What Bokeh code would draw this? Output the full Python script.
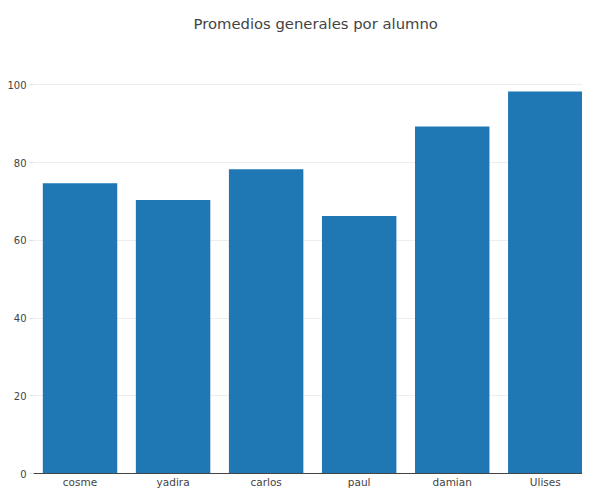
from bokeh.plotting import figure
from bokeh.models import Range1d, FixedTicker, Title
from bokeh.embed import file_html
from bokeh.resources import INLINE

titulo = "Promedios generales por alumno"
alumnos = ["cosme", "yadira", "carlos", "paul", "damian", "Ulises"]
promedios = [74.7, 70.4, 78.3, 66.3, 89.3, 98.3]
y_ticks = [0, 20, 40, 60, 80, 100]

xs = [i + 0.5 for i in range(len(alumnos))]

p = figure(width=582, height=490, output_backend="svg", toolbar_location=None,
           x_range=Range1d(0, 5.9), y_range=Range1d(0, 103.2),
           min_border_left=33, min_border_right=0, min_border_top=72, min_border_bottom=0)
p.title = Title(text=titulo + "\n \n ", align="left", vertical_align="bottom", offset=160,
                text_font="DejaVu Sans", text_font_size="14.8px", text_font_style="normal",
                text_color="#444444", standoff=0, text_line_height=1.2)
p.outline_line_color = None
p.background_fill_color = "white"
p.border_fill_color = "white"

p.vbar(x=xs, top=promedios, width=0.8, bottom=0, fill_color="#1f77b4", line_color=None)

p.xgrid.grid_line_color = None
p.ygrid.grid_line_color = "#eeeeee"
p.ygrid.ticker = FixedTicker(ticks=y_ticks)

p.xaxis.ticker = FixedTicker(ticks=xs)
p.xaxis.major_label_overrides = {x: a for x, a in zip(xs, alumnos)}
p.xaxis.major_tick_in = 0
p.xaxis.major_tick_out = 0
p.xaxis.major_tick_line_color = None
p.xaxis.minor_tick_line_color = None
p.xaxis.axis_line_color = "#444444"
p.xaxis.axis_line_width = 1
p.xaxis.major_label_standoff = 2
p.xaxis.major_label_text_font = "DejaVu Sans"
p.xaxis.major_label_text_font_size = "10.5px"
p.xaxis.major_label_text_color = "#444444"

p.yaxis.ticker = FixedTicker(ticks=y_ticks)
p.yaxis.axis_line_color = None
p.yaxis.major_tick_in = 0
p.yaxis.major_tick_out = 4
p.yaxis.major_tick_line_color = "#dddddd"
p.yaxis.minor_tick_line_color = None
p.yaxis.major_label_standoff = 3
p.yaxis.major_label_text_font = "DejaVu Sans"
p.yaxis.major_label_text_font_size = "10px"
p.yaxis.major_label_text_color = "#444444"

open("out.html", "w").write(file_html(p, INLINE))
